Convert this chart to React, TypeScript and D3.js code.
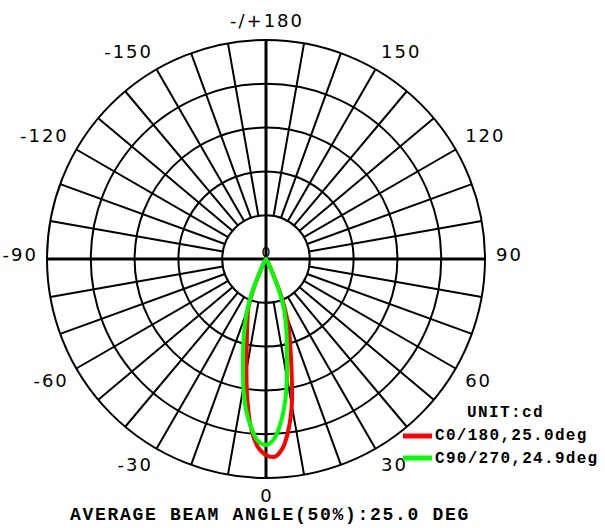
import React from "react";
import * as d3 from "d3";

// ---- data ----
const angles = [-35, -30, -25, -22.5, -20, -17.5, -15, -12.5, -10, -7.5, -5, -2.5, 0, 2.5, 5, 7.5, 10, 12.5, 15, 17.5, 20, 22.5, 25, 30, 35];
const c0Values = [0, 23, 158, 384, 588, 701, 836, 1017, 1288, 1627, 1944, 2147, 2237, 2260, 2170, 1966, 1695, 1356, 1085, 881, 678, 429, 181, 45, 0];
const c90Values = [0, 42, 191, 425, 637, 807, 998, 1210, 1486, 1741, 1932, 2081, 2123, 2059, 1889, 1656, 1380, 1104, 913, 743, 594, 382, 170, 42, 0];
const ringValues = [500, 1000, 1500, 2000, 2500];
const labelAngles = [0, 30, 60, 90, 120, 150, 180, -150, -120, -90, -60, -30];
const labelTexts = ["0", "30", "60", "90", "120", "150", "-/+180", "-150", "-120", "-90", "-60", "-30"];
const seriesNames = ["C0/180,25.0deg", "C90/270,24.9deg"];
const seriesColors = ["#ff0000", "#00ff00"];
const unitText = "UNIT:cd";
const footerText = "AVERAGE BEAM ANGLE(50%):25.0 DEG";

const W = 605, H = 528;
const cx = 266, cy = 259, R = 219;

export default function App() {
  const rScale = d3.scaleLinear().domain([0, 2500]).range([0, R]);
  const rad = (d: number) => (d * Math.PI) / 180;
  const pos = (deg: number, r: number): [number, number] => [cx + r * Math.sin(rad(deg)), cy + r * Math.cos(rad(deg))];

  const radials: number[] = [];
  for (let a = 0; a < 360; a += 10) if (a % 90 !== 0) radials.push(a);

  const line = d3
    .lineRadial<number>()
    .angle((_, i) => Math.PI - rad(angles[i]))
    .radius((v) => rScale(v))
    .curve(d3.curveCatmullRomClosed.alpha(0.5));

  const labelR = 230;
  const labelFont = "'DejaVu Sans', sans-serif";
  const mono = "'Liberation Mono', 'Courier New', monospace";
  const ls = 2;

  return (
    <svg width={W} height={H} style={{ position: "absolute", left: 0, top: 0, background: "#fff" }}>
      <rect x={0} y={0} width={W} height={H} fill="#fff" />
      {/* rings */}
      {ringValues.map((v) => (
        <circle key={v} cx={cx} cy={cy} r={rScale(v)} fill="none" stroke="#000" strokeWidth={2} />
      ))}
      {/* radial lines */}
      {radials.map((a) => {
        const [x1, y1] = pos(a, rScale(ringValues[0]));
        const [x2, y2] = pos(a, R);
        return <line key={a} x1={x1} y1={y1} x2={x2} y2={y2} stroke="#000" strokeWidth={2} />;
      })}
      {/* main axes */}
      <line x1={cx} y1={cy - R} x2={cx} y2={cy + R} stroke="#000" strokeWidth={3} />
      <line x1={cx - R} y1={cy} x2={cx + R} y2={cy} stroke="#000" strokeWidth={3} />
      {/* center label */}
      <text x={cx} y={257} textAnchor="middle" fontFamily={labelFont} fontSize={14} fill="#000">0</text>
      {/* curves */}
      {[c0Values, c90Values].map((vals, i) => (
        <path key={i} d={line(vals) || ""} transform={`translate(${cx},${cy})`} fill="none" stroke={seriesColors[i]} strokeWidth={4} strokeLinejoin="round" />
      ))}
      {/* angle labels */}
      {labelAngles.map((a, i) => {
        const s = Math.sin(rad(a)), c = Math.cos(rad(a));
        const [px, py] = pos(a, labelR);
        const sx = Math.abs(s) < 0.01 ? 0 : Math.sign(s);
        const sy = Math.abs(c) < 0.01 ? 0 : Math.sign(c);
        const anchor = sx > 0 ? "start" : sx < 0 ? "end" : "middle";
        const xAdj = sx < 0 ? ls : sx === 0 ? ls / 2 : 0;
        const y = sy > 0 ? py + 12.8 : sy < 0 ? py - 2 : py + 1.5;
        return (
          <text key={a} x={px + xAdj} y={y} textAnchor={anchor} fontFamily={labelFont} fontSize={18} letterSpacing={ls} fill="#000">
            {labelTexts[i]}
          </text>
        );
      })}
      {/* legend */}
      <text x={467} y={417} fontFamily={mono} fontWeight="bold" fontSize={16} letterSpacing={1.4} fill="#000">{unitText}</text>
      {seriesNames.map((n, i) => (
        <g key={n}>
          <line x1={403} x2={432} y1={436 + i * 22} y2={436 + i * 22} stroke={seriesColors[i]} strokeWidth={5} />
          <text x={435} y={440 + i * 22.5} fontFamily={mono} fontWeight="bold" fontSize={16} letterSpacing={1.3} fill="#000">{n}</text>
        </g>
      ))}
      <text x={70} y={520} fontFamily={mono} fontWeight="bold" fontSize={18} letterSpacing={1.7} fill="#000">{footerText}</text>
    </svg>
  );
}
